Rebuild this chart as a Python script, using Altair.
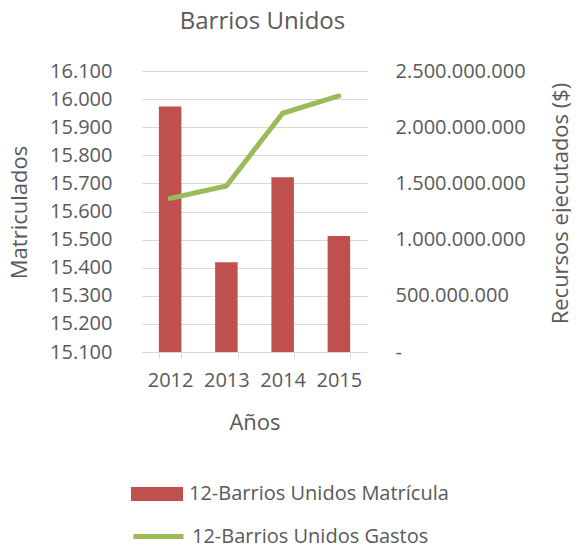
import altair as alt
import pandas as pd

years = ["2012", "2013", "2014", "2015"]
matricula = [15974, 15419, 15722, 15513]
gastos = [1367000000, 1477000000, 2124000000, 2278000000]
serie_m = "12-Barrios Unidos Matrícula"
serie_g = "12-Barrios Unidos Gastos"
left_ticks = [15100, 15200, 15300, 15400, 15500, 15600, 15700, 15800, 15900, 16000, 16100]
right_ticks = [0, 500000000, 1000000000, 1500000000, 2000000000, 2500000000]
left_base = 15100

df_m = pd.DataFrame({"Año": years, "Matriculados": matricula, "serie": [serie_m] * 4})
df_g = pd.DataFrame({"Año": years, "Gastos": gastos, "serie": [serie_g] * 4})

FONT = "Open Sans"
TXT = "#595959"
fmt = "replace(format(datum.value, ','), regexp(',', 'g'), '.')"

x_enc = alt.X(
    "Año:N",
    scale=alt.Scale(paddingInner=0.6, paddingOuter=0.3),
    axis=alt.Axis(
        title="Años", labelAngle=0, labelFontSize=20, titleFontSize=22,
        labelPadding=12, titlePadding=22, domainColor="#D9D9D9", tickColor="#D9D9D9",
        tickSize=6, tickBand="extent", grid=False, labelColor=TXT, titleColor=TXT,
        labelFont=FONT, titleFont=FONT, titleFontWeight="normal",
    ),
)

bars = alt.Chart(df_m).mark_bar(color="#C0504D").encode(
    x=x_enc,
    y=alt.Y(
        "Matriculados:Q",
        scale=alt.Scale(domain=[15100, 16100], zero=False, nice=False),
        axis=alt.Axis(
            title="Matriculados", values=left_ticks, labelExpr=fmt,
            labelFontSize=20, titleFontSize=22, labelPadding=30, ticks=False,
            domain=False, grid=True, gridColor="#D9D9D9", labelColor=TXT,
            titleColor=TXT, labelFont=FONT, titleFont=FONT, titleFontWeight="normal",
            titleX=-123, titleY=141, titleAngle=270, titleBaseline="middle",
            titleAlign="center",
        ),
    ),
    y2=alt.datum(left_base),
    color=alt.Color(
        "serie:N",
        scale=alt.Scale(domain=[serie_m], range=["#C0504D"]),
        legend=alt.Legend(
            title=None, orient="none", legendX=-11, legendY=397,
            symbolType="M-1,-0.27L1,-0.27L1,0.27L-1,0.27Z", symbolSize=2704,
            symbolStrokeWidth=0, labelFontSize=20, labelColor=TXT, labelFont=FONT,
            labelOffset=6, padding=0, labelLimit=400,
        ),
    ),
)

line = alt.Chart(df_g).mark_line(strokeWidth=5, strokeCap="round", strokeJoin="round").encode(
    x=x_enc,
    y=alt.Y(
        "Gastos:Q",
        scale=alt.Scale(domain=[0, 2500000000], nice=False),
        axis=alt.Axis(
            orient="right", title="Recursos ejecutados ($)", values=right_ticks,
            labelExpr="datum.value == 0 ? '-' : " + fmt,
            labelFontSize=20, titleFontSize=22, labelPadding=28, ticks=False,
            domain=False, grid=False, labelColor=TXT, titleColor=TXT,
            labelFont=FONT, titleFont=FONT, titleFontWeight="normal",
            titleX=193, titleY=132, titleAngle=270, titleBaseline="middle",
            titleAlign="center",
        ),
    ),
    color=alt.Color(
        "serie:N",
        scale=alt.Scale(domain=[serie_g], range=["#9BBB59"]),
        legend=alt.Legend(
            title=None, orient="none", legendX=-11, legendY=438,
            symbolType="stroke", symbolSize=2500, symbolStrokeWidth=5,
            labelFontSize=20, labelColor=TXT, labelFont=FONT, labelOffset=6,
            padding=0, labelLimit=400,
        ),
    ),
)

chart = (
    alt.layer(bars, line)
    .resolve_scale(y="independent", color="independent")
    .properties(
        width=225,
        height=281,
        autosize=alt.AutoSizeParams(type="none"),
        padding={"left": 134, "top": 63, "right": 204, "bottom": 192},
        background="white",
        title=alt.TitleParams(
            "Barrios Unidos", fontSize=24, font=FONT, color=TXT,
            fontWeight="normal", anchor="middle", dx=8, offset=27,
        ),
    )
    .configure_view(stroke=None)
)

chart.save("out.html", embed_options={"renderer": "svg", "actions": False})
